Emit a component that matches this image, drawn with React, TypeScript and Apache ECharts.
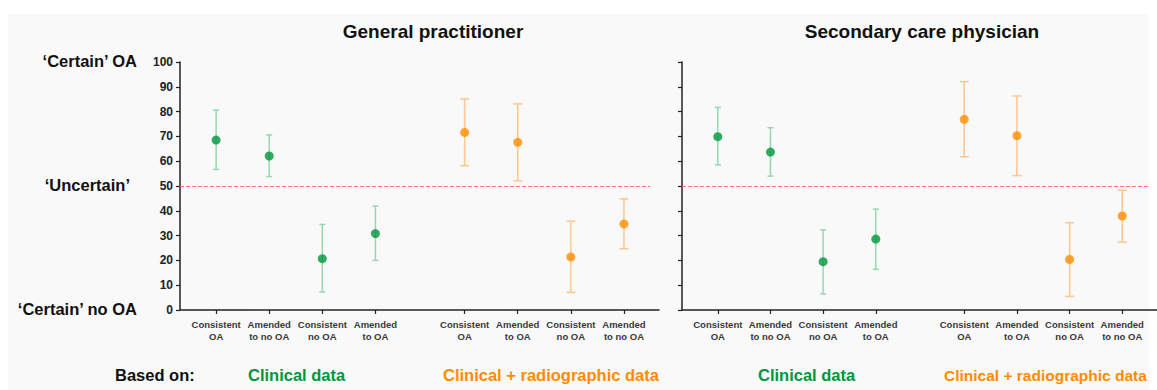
import React, { useEffect, useRef } from "react";
import * as echarts from "echarts";

// ---- data ----
const panelTitles = ["General practitioner", "Secondary care physician"];
const clinicalCategories = ["Consistent\nOA", "Amended\nto no OA", "Consistent\nno OA", "Amended\nto OA"];
const radioCategories = ["Consistent\nOA", "Amended\nto OA", "Consistent\nno OA", "Amended\nto no OA"];
const sideLabels = ["\u2018Certain\u2019 OA", "\u2018Uncertain\u2019", "\u2018Certain\u2019 no OA"];
const sideLabelValues = [100, 50, 0];
const groupNames = ["Clinical data", "Clinical + radiographic data"];

const gpClinicalMean = [68.5, 62.1, 20.7, 30.8];
const gpClinicalLow = [56.7, 53.8, 7.3, 20.0];
const gpClinicalHigh = [80.6, 70.6, 34.5, 41.9];

const gpRadioMean = [71.6, 67.6, 21.4, 34.7];
const gpRadioLow = [58.2, 52.1, 7.1, 24.7];
const gpRadioHigh = [85.1, 83.1, 35.8, 44.8];

const scClinicalMean = [69.9, 63.7, 19.5, 28.6];
const scClinicalLow = [58.5, 54.0, 6.5, 16.4];
const scClinicalHigh = [81.7, 73.5, 32.3, 40.7];

const scRadioMean = [76.9, 70.3, 20.4, 37.9];
const scRadioLow = [61.8, 54.2, 5.5, 27.4];
const scRadioHigh = [92.1, 86.3, 35.2, 48.3];

const uncertainLevel = 50;

// ---- layout / style ----
const GREEN = "#00963c";
const GREEN_BAR = "#97d8b0";
const ORANGE = "#ff8c00";
const ORANGE_BAR = "#ffc690";
const FONT = "'Liberation Sans', Arial, Helvetica, sans-serif";
const GROUP_GAP = 0.68;
const X_MIN = -0.68;
const X_MAX = 8.34;
const GRID_TOP = 62;
const GRID_H = 248;
const GRID_W = 479;
const GRID_LEFTS = [180, 682];

const xPos = (i: number, group: number) => i + group * (4 + GROUP_GAP);
const allPositions = [0, 1, 2, 3].map((i) => xPos(i, 0)).concat([0, 1, 2, 3].map((i) => xPos(i, 1)));
const allLabels = clinicalCategories.concat(radioCategories);

function labelFor(v: number) {
  let best = 0;
  let bd = Infinity;
  allPositions.forEach((p, k) => {
    const d = Math.abs(p - v);
    if (d < bd) {
      bd = d;
      best = k;
    }
  });
  return allLabels[best];
}

function errorSeries(gridIdx: number, group: number, low: number[], high: number[], color: string, capHalf: number) {
  return {
    type: "custom",
    xAxisIndex: gridIdx,
    yAxisIndex: gridIdx,
    silent: true,
    data: low.map((l, i) => [xPos(i, group), l, high[i]]),
    encode: { x: 0, y: [1, 2] },
    renderItem: (params: any, api: any) => {
      const x = api.value(0);
      const lo = api.coord([x, api.value(1)]);
      const hi = api.coord([x, api.value(2)]);
      const style = { stroke: color, lineWidth: 1.5 };
      return {
        type: "group",
        children: [
          { type: "line", shape: { x1: lo[0], y1: lo[1], x2: hi[0], y2: hi[1] }, style },
          { type: "line", shape: { x1: hi[0] - capHalf, y1: hi[1], x2: hi[0] + capHalf, y2: hi[1] }, style },
          { type: "line", shape: { x1: lo[0] - capHalf, y1: lo[1], x2: lo[0] + capHalf, y2: lo[1] }, style },
        ],
      };
    },
    z: 2,
  };
}

function meanSeries(gridIdx: number, group: number, mean: number[], color: string) {
  return {
    type: "scatter",
    xAxisIndex: gridIdx,
    yAxisIndex: gridIdx,
    symbol: "circle",
    symbolSize: 9,
    itemStyle: { color },
    data: mean.map((m, i) => [xPos(i, group), m]),
    z: 3,
  };
}

function refLine(gridIdx: number) {
  return {
    type: "line",
    xAxisIndex: gridIdx,
    yAxisIndex: gridIdx,
    data: [],
    silent: true,
    markLine: {
      symbol: ["none", "none"],
      silent: true,
      label: { show: false },
      lineStyle: { color: "#ff7a68", type: [4, 2], width: 1 },
      data: [[{ coord: [X_MIN, uncertainLevel] }, { coord: [8.17, uncertainLevel] }]],
    },
  };
}

export default function App() {
  const ref = useRef<HTMLDivElement>(null);

  useEffect(() => {
    document.body.style.margin = "0";
    if (!ref.current) return;
    const chart = echarts.init(ref.current, null, { renderer: "svg" });

    const grids = GRID_LEFTS.map((l) => ({ left: l, top: GRID_TOP, width: GRID_W, height: GRID_H }));

    const xAxes = GRID_LEFTS.map((_, g) => ({
      type: "value",
      gridIndex: g,
      min: X_MIN,
      max: X_MAX,
      splitLine: { show: false },
      axisLine: { show: true, onZero: false, lineStyle: { color: "#222", width: 1.5 } },
      axisTick: { show: true, customValues: allPositions, length: 4, lineStyle: { color: "#222", width: 1.2 } },
      axisLabel: {
        show: true,
        customValues: allPositions,
        formatter: (v: number) => labelFor(v),
        fontFamily: FONT,
        fontSize: 9.5,
        fontWeight: "bold",
        color: "#3a3a3a",
        lineHeight: 12,
        margin: 8,
      },
    }));

    const yAxes = GRID_LEFTS.map((_, g) => ({
      type: "value",
      gridIndex: g,
      min: 0,
      max: 100,
      interval: 10,
      splitLine: { show: false },
      axisLine: { show: true, onZero: false, lineStyle: { color: "#222", width: 1.5 } },
      axisTick: { show: true, inside: false, length: 4, lineStyle: { color: "#222", width: 1.2 } },
      axisLabel: {
        show: g === 0,
        fontFamily: FONT,
        fontSize: 12,
        fontWeight: "bold",
        color: "#222",
        margin: 7,
      },
    }));

    const yFor = (v: number) => GRID_TOP + GRID_H * (1 - v / 100);

    const graphics: any[] = [
      {
        type: "rect",
        shape: { x: 8, y: 14, width: 1141, height: 376 },
        style: { fill: "#f9f9f9" },
        z: -10,
        silent: true,
      },
    ];
    const titleCenters = [433, 922];
    panelTitles.forEach((t, k) => {
      graphics.push({
        type: "text",
        x: titleCenters[k],
        y: 31,
        style: {
          text: t,
          fontFamily: FONT,
          fontSize: 19,
          fontWeight: "bold",
          fill: "#111",
          align: "center",
          verticalAlign: "middle",
        },
      });
    });
    const sideRight = [137, 130, 137];
    sideLabels.forEach((t, k) => {
      graphics.push({
        type: "text",
        x: sideRight[k],
        y: yFor(sideLabelValues[k]) - 1,
        style: {
          text: t,
          fontFamily: FONT,
          fontSize: 16.5,
          fontWeight: "bold",
          fill: "#111",
          align: "right",
          verticalAlign: "middle",
        },
      });
    });
    graphics.push({
      type: "text",
      x: 115,
      y: 375,
      style: {
        text: "Based on:",
        fontFamily: FONT,
        fontSize: 16.5,
        fontWeight: "bold",
        fill: "#111",
        align: "left",
        verticalAlign: "middle",
      },
    });
    const groupStarts = [
      [248, 443],
      [758, 944],
    ];
    const groupSizes = [
      [16.5, 16.5],
      [16.5, 15.5],
    ];
    groupStarts.forEach((starts, p) => {
      starts.forEach((sx, gi) => {
        graphics.push({
          type: "text",
          x: sx,
          y: 375,
          style: {
            text: groupNames[gi],
            fontFamily: FONT,
            fontSize: groupSizes[p][gi],
            fontWeight: "bold",
            fill: gi === 0 ? GREEN : ORANGE,
            align: "left",
            verticalAlign: "middle",
          },
        });
      });
    });

    chart.setOption({
      animation: false,
      backgroundColor: "#ffffff",
      grid: grids,
      xAxis: xAxes,
      yAxis: yAxes,
      graphic: graphics,
      series: [
        refLine(0),
        refLine(1),
        errorSeries(0, 0, gpClinicalLow, gpClinicalHigh, GREEN_BAR, 3),
        errorSeries(0, 1, gpRadioLow, gpRadioHigh, ORANGE_BAR, 4.5),
        errorSeries(1, 0, scClinicalLow, scClinicalHigh, GREEN_BAR, 3),
        errorSeries(1, 1, scRadioLow, scRadioHigh, ORANGE_BAR, 4.5),
        meanSeries(0, 0, gpClinicalMean, GREEN),
        meanSeries(0, 1, gpRadioMean, ORANGE),
        meanSeries(1, 0, scClinicalMean, GREEN),
        meanSeries(1, 1, scRadioMean, ORANGE),
      ],
    });

    return () => chart.dispose();
  }, []);

  return <div ref={ref} style={{ width: 1157, height: 390 }} />;
}
